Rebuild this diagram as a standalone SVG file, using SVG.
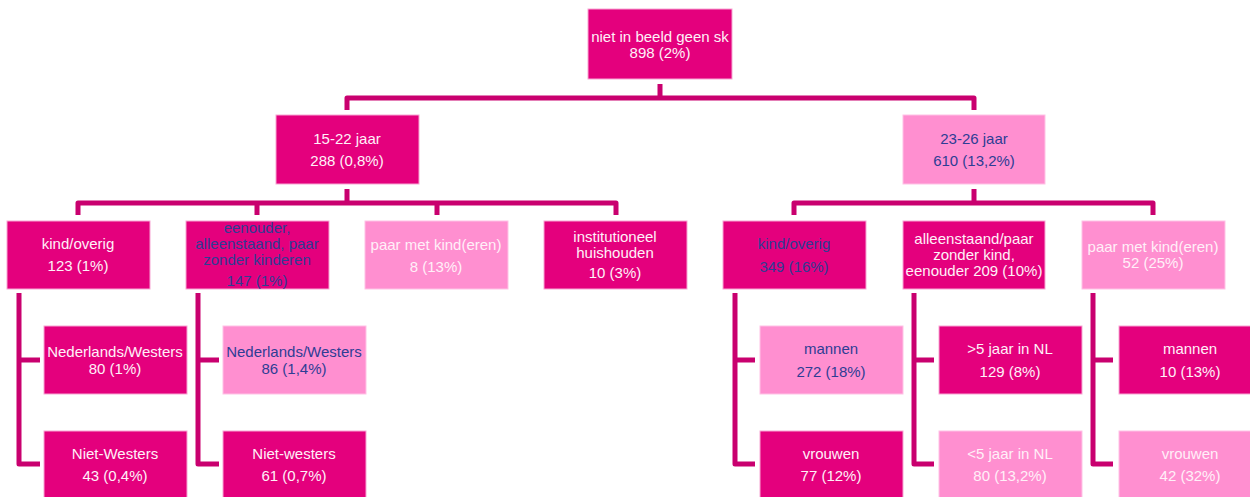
<svg xmlns="http://www.w3.org/2000/svg" width="1250" height="497" viewBox="0 0 1250 497">
<style>
.dk{fill:#E4007D;stroke:#F7A6D4;stroke-width:1}
.lt{fill:#FF8FD0;stroke:#FFC2E6;stroke-width:1}
text{font-family:"Liberation Sans",Arial,sans-serif;font-size:15px;text-anchor:middle}
.w{fill:#FFF0F8}
.b{fill:#2E3D94}
.con path{fill:none;stroke:#C9006F;stroke-width:5;stroke-linejoin:round;stroke-linecap:butt}
</style>
<rect width="1250" height="497" fill="#FFFFFF"/>
<g class="con" id="connectors">
<path d="M660,84 V98 M347,110 V98 H974 V110"/>
<path d="M347,189 V203 M78,215 V203 H616 V215 M257,203 V215 M437,203 V215"/>
<path d="M974,189 V203 M794,215 V203 H1153 V215"/>
<path d="M19,293 V464 H40 M19,360 H40"/>
<path d="M198,293 V464 H219 M198,360 H219"/>
<path d="M735,293 V464 H755 M735,360 H755"/>
<path d="M914,293 V464 H934 M914,360 H934"/>
<path d="M1093,293 V464 H1113 M1093,360 H1113"/>
</g>
<g id="root"><rect class="dk" x="588" y="9" width="144" height="70"/><text class="w" x="660" y="42">niet in beeld geen sk</text><text class="w" x="660" y="58">898 (2%)</text></g>
<g id="n1522"><rect class="dk" x="276" y="115" width="143" height="69"/><text class="w" x="347" y="144">15-22 jaar</text><text class="w" x="347" y="166">288 (0,8%)</text></g>
<g id="n2326"><rect class="lt" x="903" y="115" width="142" height="69"/><text class="b" x="974" y="144">23-26 jaar</text><text class="b" x="974" y="166">610 (13,2%)</text></g>
<g id="l_kind"><rect class="dk" x="7" y="221" width="143" height="68"/><text class="w" x="78" y="249">kind/overig</text><text class="w" x="78" y="271">123 (1%)</text></g>
<g id="l_eenouder"><rect class="dk" x="186" y="221" width="143" height="68"/><text class="b" x="257" y="233">eenouder,</text><text class="b" x="257" y="249">alleenstaand, paar</text><text class="b" x="257" y="265">zonder kinderen</text><text class="b" x="257" y="286">147 (1%)</text></g>
<g id="l_paar"><rect class="lt" x="365" y="221" width="143" height="68"/><text class="w" x="436" y="250">paar met kind(eren)</text><text class="w" x="436" y="272">8 (13%)</text></g>
<g id="l_inst"><rect class="dk" x="544" y="221" width="143" height="68"/><text class="w" x="615" y="242">institutioneel</text><text class="w" x="615" y="258">huishouden</text><text class="w" x="615" y="278">10 (3%)</text></g>
<g id="r_kind"><rect class="dk" x="723" y="221" width="143" height="68"/><text class="b" x="794" y="249">kind/overig</text><text class="b" x="794" y="272">349 (16%)</text></g>
<g id="r_alleen"><rect class="dk" x="903" y="221" width="142" height="68"/><text class="w" x="974" y="244">alleenstaand/paar</text><text class="w" x="974" y="260">zonder kind,</text><text class="w" x="974" y="276">eenouder 209 (10%)</text></g>
<g id="r_paar"><rect class="lt" x="1082" y="221" width="143" height="68"/><text class="w" x="1153" y="252">paar met kind(eren)</text><text class="w" x="1153" y="268">52 (25%)</text></g>
<g id="nl80"><rect class="dk" x="44" y="326" width="143" height="68"/><text class="w" x="115" y="357">Nederlands/Westers</text><text class="w" x="115" y="374">80 (1%)</text></g>
<g id="nw43"><rect class="dk" x="44" y="431" width="143" height="68"/><text class="w" x="115" y="459">Niet-Westers</text><text class="w" x="115" y="481">43 (0,4%)</text></g>
<g id="nl86"><rect class="lt" x="223" y="326" width="143" height="68"/><text class="b" x="294" y="357">Nederlands/Westers</text><text class="b" x="294" y="374">86 (1,4%)</text></g>
<g id="nw61"><rect class="dk" x="223" y="431" width="143" height="68"/><text class="w" x="294" y="459">Niet-westers</text><text class="w" x="294" y="481">61 (0,7%)</text></g>
<g id="m272"><rect class="lt" x="760" y="326" width="143" height="68"/><text class="b" x="831" y="354">mannen</text><text class="b" x="831" y="377">272 (18%)</text></g>
<g id="v77"><rect class="dk" x="760" y="431" width="143" height="68"/><text class="w" x="831" y="459">vrouwen</text><text class="w" x="831" y="481">77 (12%)</text></g>
<g id="gt5"><rect class="dk" x="939" y="326" width="143" height="68"/><text class="w" x="1010" y="354">&gt;5 jaar in NL</text><text class="w" x="1010" y="377">129 (8%)</text></g>
<g id="lt5"><rect class="lt" x="939" y="431" width="143" height="68"/><text class="w" x="1010" y="459">&lt;5 jaar in NL</text><text class="w" x="1010" y="481">80 (13,2%)</text></g>
<g id="m10"><rect class="dk" x="1119" y="326" width="143" height="68"/><text class="w" x="1190" y="354">mannen</text><text class="w" x="1190" y="377">10 (13%)</text></g>
<g id="v42"><rect class="lt" x="1119" y="431" width="143" height="68"/><text class="w" x="1190" y="459">vrouwen</text><text class="w" x="1190" y="481">42 (32%)</text></g>
</svg>
